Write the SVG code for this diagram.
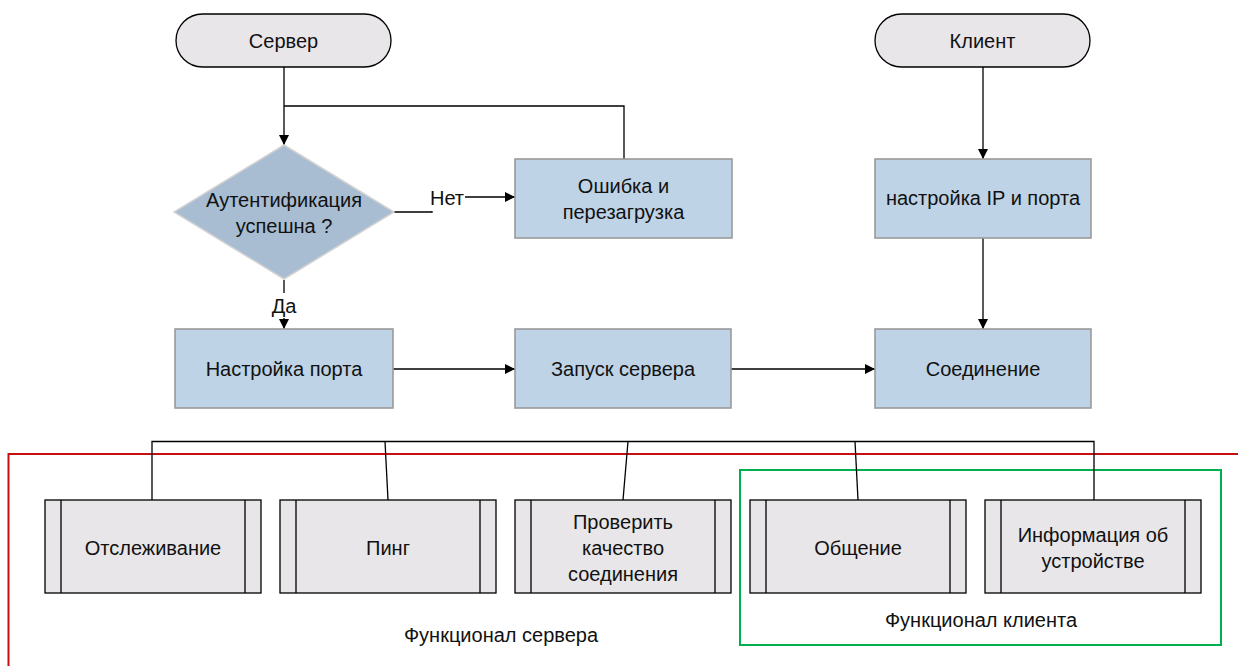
<svg xmlns="http://www.w3.org/2000/svg" width="1238" height="666" viewBox="0 0 1238 666">
  <style>
    text { font-family: "Liberation Sans", Arial, sans-serif; font-size: 20px; fill: #111; text-anchor: middle; dominant-baseline: central; }
    .term { fill: #e8e6e8; stroke: #000; stroke-width: 1.3; }
    .proc { fill: #bed3e5; stroke: #9a9a9a; stroke-width: 1.6; }
    .dec { fill: #a8bdd2; stroke: #d2d2d2; stroke-width: 1.5; }
    .sub { fill: #e8e6e8; stroke: #000; stroke-width: 1.3; }
    .bar { stroke: #000; stroke-width: 1.3; }
    .wire { fill: none; stroke: #000; stroke-width: 1.3; }
    .arrow { fill: none; stroke: #000; stroke-width: 1.3; marker-end: url(#head); }
    .gap { fill: #fff; }
  </style>
  <defs>
    <marker id="head" viewBox="0 0 10 10" refX="10" refY="5" markerWidth="10" markerHeight="10" markerUnits="userSpaceOnUse" orient="auto">
      <path d="M0,0 L10,5 L0,10 z" fill="#000"/>
    </marker>
  </defs>

  <!-- group frames -->
  <g id="server-features-frame">
    <path d="M1240,454 H8.5 V670" fill="none" stroke="#c41010" stroke-width="2"/>
    <text x="501" y="635">Функционал сервера</text>
  </g>
  <g id="client-features-frame">
    <rect x="740" y="470" width="481" height="175" fill="none" stroke="#00b050" stroke-width="2"/>
    <text x="981" y="620">Функционал клиента</text>
  </g>

  <!-- connectors -->
  <g id="connectors">
    <path class="arrow" d="M284,67 V145"/>
    <path class="wire" d="M624,159 V106 H284"/>
    <path class="arrow" d="M394,212 H432 V197 H515"/>
    <path class="arrow" d="M284,280 V329"/>
    <path class="arrow" d="M393,369 H515"/>
    <path class="arrow" d="M731,369 H875"/>
    <path class="arrow" d="M983,67 V159"/>
    <path class="arrow" d="M983,238 V329"/>
    <!-- feature bus -->
    <path class="wire" d="M152,500 V441.5 H1094 V500"/>
    <path class="wire" d="M385,441.5 L388,500"/>
    <path class="wire" d="M628,441.5 L623,500"/>
    <path class="wire" d="M855,441.5 L858,500"/>
    <!-- label backings -->
    <rect class="gap" x="429" y="185" width="36" height="26"/>
    <rect class="gap" x="270" y="293" width="28" height="25"/>
    <text x="447" y="198">Нет</text>
    <text x="284" y="306">Да</text>
  </g>

  <!-- flow nodes -->
  <g id="server-start">
    <rect class="term" x="176" y="14" width="215" height="53" rx="26.5"/>
    <text x="283.5" y="41">Сервер</text>
  </g>
  <g id="auth-check">
    <polygon class="dec" points="284,145 394,212 284,279 174,212"/>
    <text x="284" y="200">Аутентификация</text>
    <text x="284" y="226">успешна ?</text>
  </g>
  <g id="error-restart">
    <rect class="proc" x="515" y="159" width="217" height="79"/>
    <text x="623.5" y="186">Ошибка и</text>
    <text x="623.5" y="212">перезагрузка</text>
  </g>
  <g id="port-setup">
    <rect class="proc" x="175" y="329" width="218" height="79"/>
    <text x="284" y="369">Настройка порта</text>
  </g>
  <g id="server-launch">
    <rect class="proc" x="515" y="329" width="216" height="79"/>
    <text x="623" y="369">Запуск сервера</text>
  </g>
  <g id="client-start">
    <rect class="term" x="875" y="14" width="215" height="53" rx="26.5"/>
    <text x="982.5" y="41">Клиент</text>
  </g>
  <g id="ip-port-setup">
    <rect class="proc" x="875" y="159" width="216" height="79"/>
    <text x="983" y="198">настройка IP и порта</text>
  </g>
  <g id="connection">
    <rect class="proc" x="875" y="329" width="216" height="79"/>
    <text x="983" y="369">Соединение</text>
  </g>

  <!-- feature subprocesses -->
  <g id="tracking">
    <rect class="sub" x="45" y="500" width="216" height="93"/>
    <path class="bar" d="M61,500 V593 M245,500 V593"/>
    <text x="153" y="548">Отслеживание</text>
  </g>
  <g id="ping">
    <rect class="sub" x="280" y="500" width="216" height="93"/>
    <path class="bar" d="M296,500 V593 M480,500 V593"/>
    <text x="388" y="548">Пинг</text>
  </g>
  <g id="quality-check">
    <rect class="sub" x="515" y="500" width="216" height="93"/>
    <path class="bar" d="M531,500 V593 M715,500 V593"/>
    <text x="623" y="522">Проверить</text>
    <text x="623" y="548">качество</text>
    <text x="623" y="574">соединения</text>
  </g>
  <g id="messaging">
    <rect class="sub" x="750" y="500" width="216" height="93"/>
    <path class="bar" d="M766,500 V593 M950,500 V593"/>
    <text x="858" y="548">Общение</text>
  </g>
  <g id="device-info">
    <rect class="sub" x="985" y="500" width="216" height="93"/>
    <path class="bar" d="M1001,500 V593 M1185,500 V593"/>
    <text x="1093" y="535">Информация об</text>
    <text x="1093" y="561">устройстве</text>
  </g>
</svg>
